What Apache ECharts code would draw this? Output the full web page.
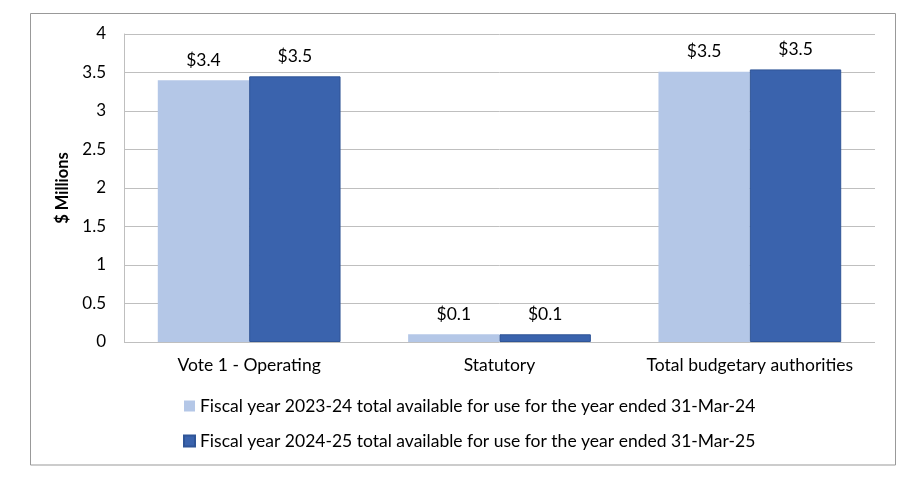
<!DOCTYPE html>
<html><head><meta charset="utf-8">
<script src="https://cdn.jsdelivr.net/npm/echarts@6/dist/echarts.min.js"></script>
<style>html,body{margin:0;padding:0;background:#fff}#c{width:920px;height:493px}</style>
</head><body><div id="c"></div>
<script>
const categories = ['Vote 1 - Operating', 'Statutory', 'Total budgetary authorities'];
const series2324 = [3.40, 0.10, 3.51];
const series2425 = [3.45, 0.10, 3.54];
const seriesNames = [
  'Fiscal year 2023-24 total available for use for the year ended 31-Mar-24',
  'Fiscal year 2024-25 total available for use for the year ended 31-Mar-25'
];
const FONT = 'Lato, "Open Sans", sans-serif';
const chart = echarts.init(document.getElementById('c'));
const lbl = {show: true, position: 'top', distance: 11, color: '#000', fontSize: 17.5, fontFamily: FONT,
  formatter: p => '$' + p.value.toFixed(1)};
chart.setOption({
  animation: false,
  textStyle: {fontFamily: FONT},
  graphic: [{type: 'rect', shape: {x: 30.5, y: 13.5, width: 865, height: 451.5},
    style: {fill: 'none', stroke: '#999', lineWidth: 1}}],
  grid: {left: 124, right: 45, top: 34, bottom: 151},
  legend: {orient: 'vertical', left: 178, top: 391, itemGap: 15, itemWidth: 11, itemHeight: 11,
    icon: 'rect', textStyle: {fontSize: 17.5, lineHeight: 20, color: '#000', fontFamily: FONT, padding: [0, 0, 0, 0]},
    data: seriesNames},
  xAxis: {type: 'category', data: categories,
    axisLine: {show: false}, axisTick: {show: false},
    axisLabel: {color: '#000', fontSize: 17.5, margin: 14, fontFamily: FONT, interval: 0}},
  yAxis: {type: 'value', min: 0, max: 4, interval: 0.5,
    name: '$ Millions', nameLocation: 'middle', nameGap: 52, nameRotate: 90,
    nameTextStyle: {fontWeight: 'bold', fontSize: 16.5, color: '#000', fontFamily: FONT},
    axisLine: {show: true, lineStyle: {color: '#bfbfbf'}}, axisTick: {show: false},
    axisLabel: {color: '#000', fontSize: 17, margin: 18, fontFamily: FONT},
    splitLine: {lineStyle: {color: '#bfbfbf'}}},
  series: [
    {name: seriesNames[0], type: 'bar', data: series2324, barGap: '0%', barCategoryGap: '27%',
      itemStyle: {color: '#b4c7e7'}, label: lbl},
    {name: seriesNames[1], type: 'bar', data: series2425,
      itemStyle: {color: '#3a63ad', borderColor: '#2f5597', borderWidth: 1}, label: lbl}
  ]
});
</script></body></html>
